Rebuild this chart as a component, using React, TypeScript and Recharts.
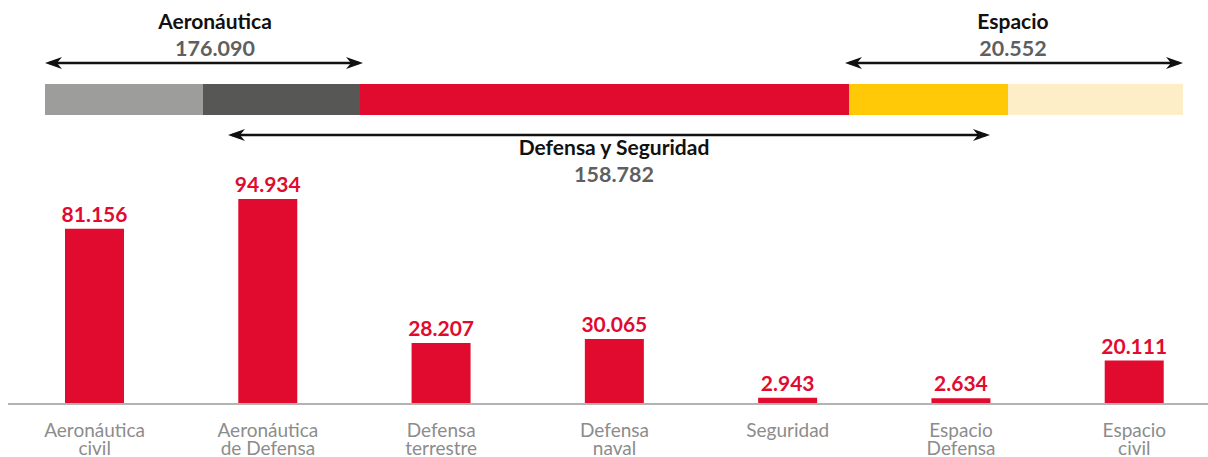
import React from 'react';
import { Bar, BarChart, LabelList, XAxis, YAxis } from 'recharts';

// Sector breakdown: stylised overview bar on top, per-subsector bars below.

const CATEGORIES = [
  ['Aeronáutica', 'civil'],
  ['Aeronáutica', 'de Defensa'],
  ['Defensa', 'terrestre'],
  ['Defensa', 'naval'],
  ['Seguridad'],
  ['Espacio', 'Defensa'],
  ['Espacio', 'civil'],
];
const VALUES = [81156, 94934, 28207, 30065, 2943, 2634, 20111];

// overview strip: relative segment widths
const SEGMENT_KEYS = ['aeroCivil', 'aeroDefensa', 'defensa', 'espacioDefensa', 'espacioCivil'];
const SEGMENT_WIDTHS = [158, 157, 489, 159, 175];
const SEGMENT_COLORS = ['#9d9d9c', '#575756', '#e10a2f', '#ffc907', '#feeec8'];

const GROUP_NAMES = ['Aeronáutica', 'Espacio', 'Defensa y Seguridad'];
const GROUP_TOTALS = ['176.090', '20.552', '158.782'];

const RED = '#e10a2f';
const FONT = 'Lato, "Open Sans", sans-serif';

const fmt = (v: number) => v.toLocaleString('de-DE');

const barData = CATEGORIES.map((c, i) => ({ key: c.join(' '), value: VALUES[i] }));
const stripRow: Record<string, number | string> = { name: 'total' };
SEGMENT_KEYS.forEach((k, i) => {
  stripRow[k] = SEGMENT_WIDTHS[i];
});
const stripTotal = SEGMENT_WIDTHS.reduce((a, b) => a + b, 0);

function CategoryTick(props: any) {
  const { x, y, payload, index } = props;
  const lines = CATEGORIES[index] ?? [String(payload.value)];
  return (
    <text x={x} y={y} textAnchor="middle" fill="#8c8c8c" fontSize={19} fontFamily={FONT}>
      {lines.map((l, i) => (
        <tspan key={i} x={x} dy={i === 0 ? 25 : 18}>
          {l}
        </tspan>
      ))}
    </text>
  );
}

function Arrow({ x1, x2, y }: { x1: number; x2: number; y: number }) {
  const head = (tip: number, dir: number) =>
    `M${tip},${y} L${tip + dir * 17},${y - 6} L${tip + dir * 12},${y} L${tip + dir * 17},${y + 6} Z`;
  return (
    <g>
      <line x1={x1 + 4} x2={x2 - 4} y1={y} y2={y} stroke="#111" strokeWidth={2.5} />
      <path d={head(x1, 1)} fill="#111" />
      <path d={head(x2, -1)} fill="#111" />
    </g>
  );
}

function GroupLabel({ cx, y, name, total }: { cx: number; y: number; name: string; total: string }) {
  return (
    <g fontFamily={FONT} fontWeight={700} textAnchor="middle">
      <text x={cx} y={y} fontSize={21} fill="#111">
        {name}
      </text>
      <text x={cx} y={y + 27} fontSize={21.5} fill="#5f5f5f">
        {total}
      </text>
    </g>
  );
}

export default function App() {
  return (
    <div
      style={{
        position: 'absolute',
        left: 0,
        top: 0,
        width: 1208,
        height: 457,
        overflow: 'hidden',
        background: '#fff',
        fontFamily: FONT,
      }}
    >
      <div style={{ position: 'absolute', left: 0, top: 84 }}>
        <BarChart
          width={1208}
          height={31}
          data={[stripRow]}
          layout="vertical"
          margin={{ top: 0, right: 25, bottom: 0, left: 45 }}
          barCategoryGap={0}
        >
          <XAxis type="number" domain={[0, stripTotal]} hide />
          <YAxis type="category" dataKey="name" hide />
          {SEGMENT_KEYS.map((k, i) => (
            <Bar key={k} dataKey={k} stackId="s" fill={SEGMENT_COLORS[i]} isAnimationActive={false} />
          ))}
        </BarChart>
      </div>

      <div style={{ position: 'absolute', left: 0, top: 0 }}>
        <BarChart
          width={1221}
          height={470}
          data={barData}
          margin={{ top: 188, right: 0, bottom: 0, left: 8 }}
          barSize={59}
        >
          <XAxis
            dataKey="key"
            axisLine={{ stroke: '#b3b3b3', strokeWidth: 2 }}
            tickLine={false}
            interval={0}
            tick={<CategoryTick />}
            height={66}
          />
          <YAxis domain={[0, 100000]} hide />
          <Bar dataKey="value" fill={RED} isAnimationActive={false}>
            <LabelList
              dataKey="value"
              position="top"
              offset={7}
              formatter={(v: any) => fmt(Number(v))}
              fill={RED}
              fontSize={21}
              fontWeight={700}
              fontFamily={FONT}
            />
          </Bar>
        </BarChart>
      </div>

      <svg
        width={1208}
        height={457}
        style={{ position: 'absolute', left: 0, top: 0, pointerEvents: 'none' }}
      >
        <GroupLabel cx={215} y={29} name={GROUP_NAMES[0]} total={GROUP_TOTALS[0]} />
        <Arrow x1={45} x2={363} y={63} />
        <GroupLabel cx={1013} y={29} name={GROUP_NAMES[1]} total={GROUP_TOTALS[1]} />
        <Arrow x1={845} x2={1183} y={63} />
        <Arrow x1={228} x2={990} y={135} />
        <GroupLabel cx={614} y={155} name={GROUP_NAMES[2]} total={GROUP_TOTALS[2]} />
      </svg>
    </div>
  );
}
